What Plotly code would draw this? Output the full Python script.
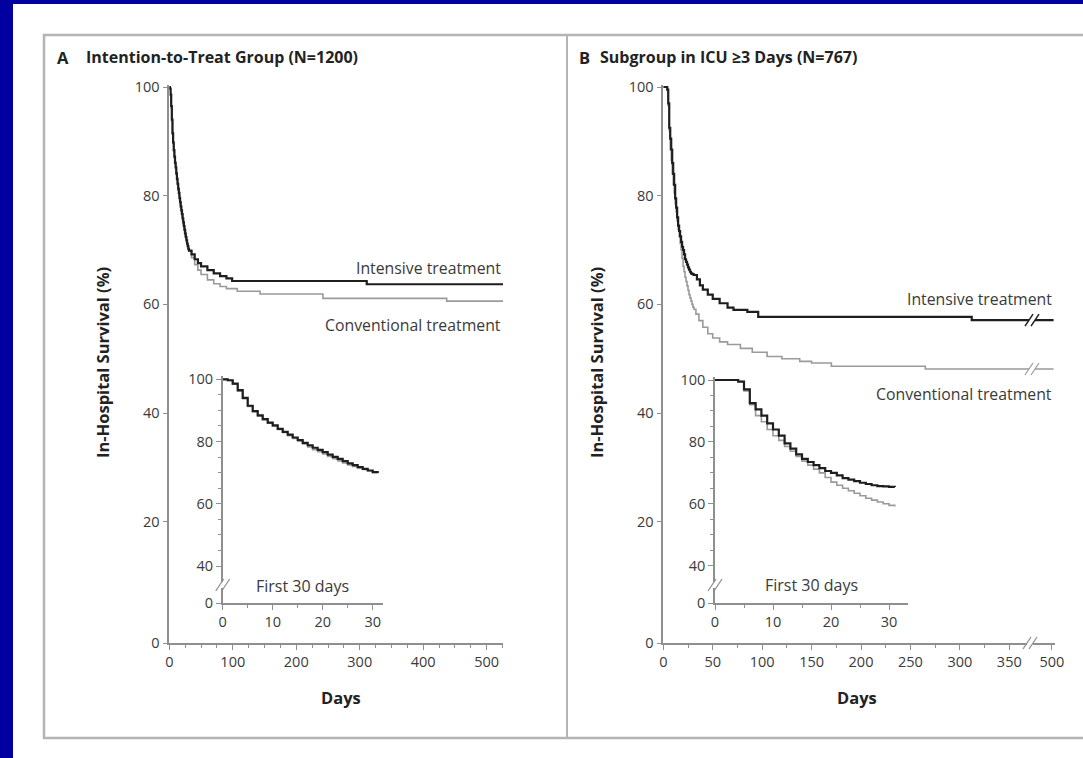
import plotly.graph_objects as go

W, H = 1083, 758

# ---------------- DATA ----------------
# Panel A (Intention-to-treat), first 30 days (daily, %)
a_days_30 = list(range(0, 32))
a_int_30 = [100, 99.7, 98.6, 96.5, 94, 91.5, 89.8, 88.4, 87.2, 86.1, 85.2, 84.1, 83.1, 82.2, 81.3, 80.5,
            79.6, 78.8, 78, 77.3, 76.6, 75.8, 75.1, 74.4, 73.7, 73, 72.4, 71.8, 71.2, 70.7, 70.2, 69.9]
a_conv_30 = [100, 99.6, 98.4, 96.2, 93.8, 91.3, 89.6, 88.2, 87, 85.9, 85, 83.9, 82.9, 81.9, 81, 80.1,
             79.2, 78.3, 77.4, 76.7, 76, 75.2, 74.5, 73.8, 73.1, 72.5, 72, 71.5, 71, 70.6, 70.1, 69.8]
# Panel A later follow-up
a_int_late_days = [35, 40, 45, 50, 60, 70, 80, 90, 99, 311, 526]
a_int_late = [69.2, 68.3, 67.6, 67.0, 66.3, 65.7, 65.2, 64.8, 64.3, 63.7, 63.7]
a_conv_late_days = [35, 40, 45, 50, 60, 70, 80, 90, 107, 143, 242, 437, 526]
a_conv_late = [68.6, 67.3, 66.3, 65.5, 64.5, 63.8, 63.3, 62.9, 62.4, 61.9, 61.1, 60.6, 60.6]

# Panel B (ICU >= 3 days), first 30 days
b_days_30 = list(range(0, 32))
b_int_30 = [100, 100, 100, 100, 99.5, 97, 92.5, 90.5, 88.5, 86, 84, 82, 79.5, 77.8, 76, 74.5,
            73.5, 72.5, 71.5, 70.6, 70, 69.2, 68.3, 67.8, 67.3, 66.8, 66.4, 66, 65.7, 65.6, 65.5, 65.4]
b_conv_30 = [100, 100, 100, 100, 99.5, 96.5, 92, 88.5, 86.5, 84, 82, 80.5, 78.5, 77, 75.3, 73.8,
             72.5, 71.2, 70, 68.5, 67, 66, 65, 64.2, 63.4, 62.6, 61.8, 61.2, 60.6, 60, 59.5, 59.1]
# Panel B later follow-up
b_int_late_days = [34, 37, 40, 45, 50, 57, 65, 71, 85, 96, 312, 520]
b_int_late = [64.6, 63.5, 62.7, 61.8, 61.0, 60.2, 59.4, 59.0, 58.6, 57.7, 57.1, 57.1]
b_conv_late_days = [33, 36, 40, 45, 50, 57, 65, 78, 90, 105, 120, 138, 150, 170, 265, 520]
b_conv_late = [58.2, 57.0, 55.8, 54.6, 53.8, 53.1, 52.6, 51.9, 51.2, 50.4, 50.0, 49.5, 49.2, 48.6, 48.1, 48.1]

# Tick labels
main_y_labels = ["0", "20", "40", "60", "80", "100"]
inset_y_labels = ["0", "40", "60", "80", "100"]
a_x_ticks = [0, 100, 200, 300, 400, 500]
b_x_ticks = [0, 50, 100, 150, 200, 250, 300, 350, 500]
inset_x_ticks = [0, 10, 20, 30]

# ---------------- HELPERS ----------------
def fx(p):
    return p / W

def fy(p):
    return 1 - p / H

# main y value from pixel (100 at 87px, 5.434 px per unit)
def vmain(p):
    return 100 - (p - 87) / 5.434

def b_scale(d):
    # broken axis in panel B: 0-365 linear, then compressed to 500
    if d <= 365:
        return d
    return 381 + (d - 365) * 12 / 135

INT_COLOR = "#1e1e1e"
CONV_COLOR = "#9a9a9a"
AX_COLOR = "#8f8f8f"
TXT = "#3a3a3a"
FONT = "Open Sans"
BLUE = "#0000a0"

fig = go.Figure()

def add_pair(xint, yint, xconv, yconv, xa, ya):
    fig.add_trace(go.Scatter(x=xconv, y=yconv, mode="lines", line=dict(color=CONV_COLOR, width=1.6, shape="hv"),
                             xaxis=xa, yaxis=ya, showlegend=False, hoverinfo="skip"))
    fig.add_trace(go.Scatter(x=xint, y=yint, mode="lines", line=dict(color=INT_COLOR, width=2.2, shape="hv"),
                             xaxis=xa, yaxis=ya, showlegend=False, hoverinfo="skip"))

# Panel A main
add_pair(a_days_30 + a_int_late_days, a_int_30 + a_int_late,
         a_days_30 + a_conv_late_days, a_conv_30 + a_conv_late, "x", "y")
# Panel A inset
add_pair(a_days_30, a_int_30, a_days_30, a_conv_30, "x2", "y2")
# Panel B main
bi_d = b_days_30 + b_int_late_days
bc_d = b_days_30 + b_conv_late_days
add_pair([b_scale(d) for d in bi_d], b_int_30 + b_int_late,
         [b_scale(d) for d in bc_d], b_conv_30 + b_conv_late, "x3", "y3")
# Panel B inset
add_pair(b_days_30, b_int_30, b_days_30, b_conv_30, "x4", "y4")

tickfont = dict(family=FONT, size=14.5, color=TXT)
common_ax = dict(showgrid=False, zeroline=False, showline=True, linecolor=AX_COLOR, linewidth=1.5,
                 ticks="outside", tickcolor=AX_COLOR, tickwidth=1.2, ticklen=5, tickfont=tickfont,
                 automargin=False)

main_y_vals = [vmain(643), 20, 40, 60, 80, 100]

# Panel A main axes
a_x0, a_ppd = 169.3, 0.6348
fig.update_layout(
    xaxis=dict(domain=[fx(a_x0), fx(503)], range=[0, (503 - a_x0) / a_ppd], anchor="y",
               tickvals=a_x_ticks, minor=dict(tickvals=[d for d in range(25, 526, 25) if d % 100 != 0],
                                               ticks="outside", ticklen=3, tickcolor=AX_COLOR, tickwidth=1),
               **common_ax),
    yaxis=dict(domain=[fy(643), fy(85)], range=[vmain(643), vmain(85)], anchor="x",
               tickvals=main_y_vals, ticktext=main_y_labels, **common_ax),
)

# Panel A inset
ai_x0, ai_ppd = 222.7, 5.0
def vinA(p):
    return 100 - (p - 379.3) / 3.112
fig.update_layout(
    xaxis2=dict(domain=[fx(ai_x0), fx(383)], range=[0, (383 - ai_x0) / ai_ppd], anchor="y2",
                tickvals=inset_x_ticks, minor=dict(tickvals=[5, 15, 25], ticks="outside", ticklen=3,
                                                   tickcolor=AX_COLOR, tickwidth=1), **common_ax),
    yaxis2=dict(domain=[fy(603), fy(376)], range=[vinA(603), vinA(376)], anchor="x2",
                tickvals=[vinA(603), 40, 60, 80, 100], ticktext=inset_y_labels,
                minor=dict(tickvals=[45, 50, 55, 65, 70, 75, 85, 90, 95], ticks="outside", ticklen=3,
                           tickcolor=AX_COLOR, tickwidth=1), **common_ax),
)

# Panel B main
b_x0, b_ppd = 663.3, 0.9886
fig.update_layout(
    xaxis3=dict(domain=[fx(b_x0), fx(1055)], range=[0, (1055 - b_x0) / b_ppd], anchor="y3",
                tickvals=[b_scale(d) for d in b_x_ticks], ticktext=[str(d) for d in b_x_ticks],
                minor=dict(tickvals=list(range(25, 350, 50)), ticks="outside", ticklen=3,
                           tickcolor=AX_COLOR, tickwidth=1), **common_ax),
    yaxis3=dict(domain=[fy(643), fy(85)], range=[vmain(643), vmain(85)], anchor="x3",
                tickvals=main_y_vals, ticktext=main_y_labels, **common_ax),
)

# Panel B inset
bi_x0, bi_ppd = 715, 5.8
def vinB(p):
    return 100 - (p - 380) / 3.095
fig.update_layout(
    xaxis4=dict(domain=[fx(bi_x0), fx(908)], range=[0, (908 - bi_x0) / bi_ppd], anchor="y4",
                tickvals=inset_x_ticks, minor=dict(tickvals=[5, 15, 25], ticks="outside", ticklen=3,
                                                   tickcolor=AX_COLOR, tickwidth=1), **common_ax),
    yaxis4=dict(domain=[fy(603.3), fy(377)], range=[vinB(603.3), vinB(377)], anchor="x4",
                tickvals=[vinB(603.3), 40, 60, 80, 100], ticktext=inset_y_labels,
                minor=dict(tickvals=[45, 50, 55, 65, 70, 75, 85, 90, 95], ticks="outside", ticklen=3,
                           tickcolor=AX_COLOR, tickwidth=1), **common_ax),
)

shapes = []
# blue border strips (left and top)
shapes.append(dict(type="rect", xref="paper", yref="paper", x0=0, x1=fx(13), y0=0, y1=1,
                   fillcolor=BLUE, line=dict(width=0), layer="below"))
shapes.append(dict(type="rect", xref="paper", yref="paper", x0=0, x1=1, y0=fy(4), y1=1,
                   fillcolor=BLUE, line=dict(width=0), layer="below"))
# grey frame
shapes.append(dict(type="rect", xref="paper", yref="paper", x0=fx(44), x1=fx(1090), y0=fy(738), y1=fy(35),
                   fillcolor="rgba(0,0,0,0)", line=dict(color="#b4b4b4", width=2.5), layer="below"))
shapes.append(dict(type="line", xref="paper", yref="paper", x0=fx(567), x1=fx(567), y0=fy(738), y1=fy(35),
                   line=dict(color="#b4b4b4", width=2), layer="below"))

def brk(cx, cy, color, h=6, lw=1.3, sep=6):
    # white gap + two slanted strokes at pixel (cx, cy)
    shapes.append(dict(type="rect", xref="paper", yref="paper", x0=fx(cx - sep / 2), x1=fx(cx + sep / 2),
                       y0=fy(cy + 3), y1=fy(cy - 3), fillcolor="white", line=dict(width=0), layer="above"))
    for dx in (-sep / 2, sep / 2):
        shapes.append(dict(type="line", xref="paper", yref="paper", x0=fx(cx + dx - 4), y0=fy(cy + h),
                           x1=fx(cx + dx + 4), y1=fy(cy - h), line=dict(color=color, width=lw), layer="above"))

# inset y-axis breaks
brk(ai_x0, 585, AX_COLOR)
brk(bi_x0, 585, AX_COLOR)
# panel B x-axis break and line breaks
brk(1030, 643, AX_COLOR)
brk(1032, 87 + (100 - 57.1) * 5.434, INT_COLOR, lw=1.5)
brk(1032, 87 + (100 - 48.1) * 5.434, CONV_COLOR, lw=1.2)

annotations = []
def txt(x, y, s, size=12, bold=False, xanchor="left", angle=0, color=TXT):
    annotations.append(dict(xref="paper", yref="paper", x=fx(x), y=fy(y), text=("<b>%s</b>" % s) if bold else s,
                            showarrow=False, xanchor=xanchor, yanchor="middle", textangle=angle,
                            font=dict(family=FONT, size=size, color=color)))

txt(55, 57, "A", 16.5, True, color="#222")
txt(84, 57, "Intention-to-Treat Group (N=1200)", 16, True, color="#222")
txt(577, 57, "B", 16.5, True, color="#222")
txt(598, 57, "Subgroup in ICU ≥3 Days (N=767)", 16, True, color="#222")

txt(103, 363, "In-Hospital Survival (%)", 16.5, True, "center", -90, "#222")
txt(597, 363, "In-Hospital Survival (%)", 16.5, True, "center", -90, "#222")
txt(341, 697, "Days", 16.5, True, "center", color="#222")
txt(857, 697, "Days", 16.5, True, "center", color="#222")

txt(503, 268, "Intensive treatment", 15.8, xanchor="right")
txt(503, 325, "Conventional treatment", 15.8, xanchor="right")
txt(1054, 299, "Intensive treatment", 15.8, xanchor="right")
txt(1054, 394, "Conventional treatment", 15.8, xanchor="right")

txt(302, 586, "First 30 days", 16, xanchor="center")
txt(812, 585, "First 30 days", 16, xanchor="center")

fig.update_layout(width=W, height=H, autosize=False,
                  margin=dict(l=0, r=0, t=0, b=0, pad=0, autoexpand=False),
                  paper_bgcolor="white", plot_bgcolor="rgba(0,0,0,0)",
                  shapes=shapes, annotations=annotations, showlegend=False)

fig.write_html("out.html",
               config={"displayModeBar": False},
               post_script="document.documentElement.style.margin='0px';"
                           "document.body.style.margin='0px';document.body.style.padding='0px';"
                           "document.documentElement.style.overflow='hidden';"
                           "document.body.style.overflow='hidden';")
